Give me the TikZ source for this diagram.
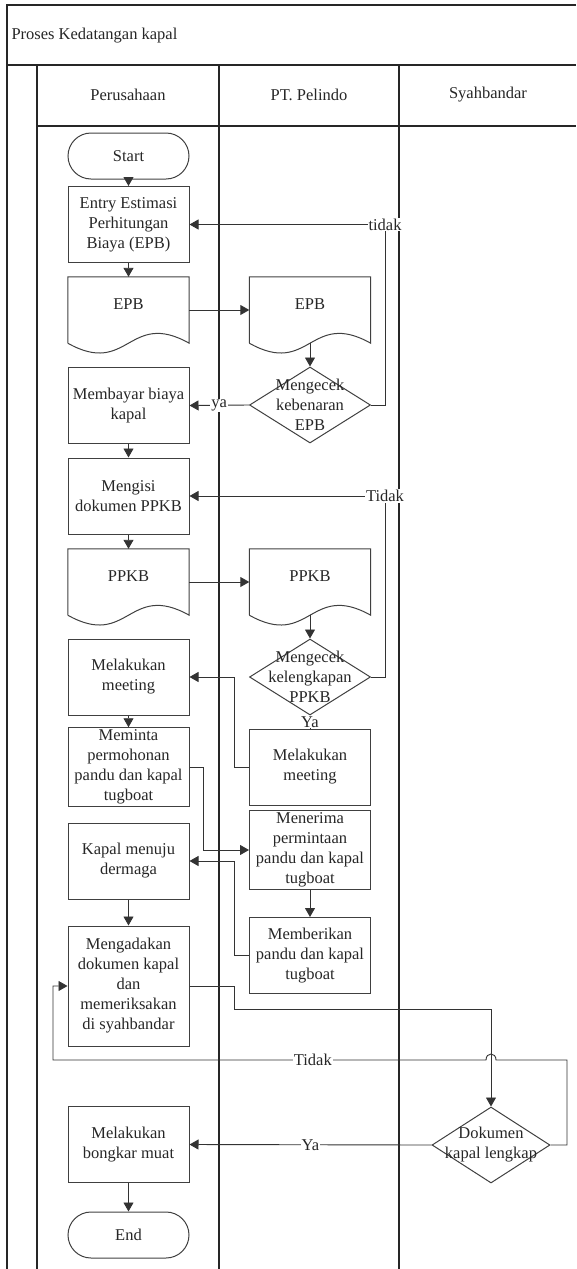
\documentclass[tikz,border=0pt]{standalone}
\usepackage{fontspec}
\setmainfont{Liberation Serif}
\usetikzlibrary{arrows.meta,calc,shapes.geometric}
\newcommand{\DocShape}[1]{%
  \draw[boxline] (#1.south west) -- (#1.north west) -- (#1.north east) -- (#1.south east)
    .. controls ($(#1.south)+(0,-34)$) and ($(#1.south)+(0,34)$) .. (#1.south west);}
\tikzset{
  txt/.style={font=\fontsize{16.5}{20}\selectfont, text=black!85},
  boxline/.style={draw=black!75, line width=1pt},
  proc/.style={txt, boxline, rectangle, minimum width=121pt, minimum height=76pt, inner sep=2pt, align=center},
  term/.style={proc, minimum height=46pt, rounded corners=23pt},
  doc/.style={txt, rectangle, minimum width=121pt, minimum height=66pt, text depth=12pt, align=center},
  dec/.style={boxline, diamond, minimum width=121pt, minimum height=76pt, inner sep=0pt},
  dectxt/.style={txt, align=center, inner sep=0pt},
  lane/.style={draw=black!85, line width=1.4pt},
  conn/.style={draw=black!80, line width=0.9pt},
  arr/.style={conn, -{Triangle[length=9pt,width=10pt]}},
  lbl/.style={txt, fill=white, inner sep=1pt},
}

\begin{document}
\begin{tikzpicture}[x=1pt,y=-1pt]
\useasboundingbox (0,0) rectangle (576,1269);
\draw[lane] (576,5) -- (7,5) -- (7,1269);
\draw[lane] (7,65) -- (576,65);
\draw[lane] (37,65) -- (37,1269);
\draw[lane] (37,126) -- (576,126);
\draw[lane] (219,65) -- (219,1269);
\draw[lane] (399,65) -- (399,1269);
\node[txt,anchor=west] (judul) at (8,36) {Proses Kedatangan kapal};
\node[txt] (hPer) at (128,95) {Perusahaan};
\node[txt] (hPel) at (309,95) {PT. Pelindo};
\node[txt] (hSya) at (488,95) {Syahbandar};

\node[term] (start) at (128.5,156) {Start};
\node[proc] (entry) at (128.5,224.5) {Entry Estimasi\\Perhitungan\\Biaya (EPB)};
\node[doc] (epb1) at (128.5,310) {EPB};
\node[doc] (epb2) at (310,310) {EPB};
\DocShape{epb1}
\DocShape{epb2}
\node[proc] (bayar) at (128.5,405.5) {Membayar biaya\\kapal};
\node[dec] (cek1) at (310,405) {};
\node[dectxt] (cek1t) at (cek1) {Mengecek\\kebenaran\\EPB};
\node[proc] (isi) at (128.5,496) {Mengisi\\dokumen PPKB};
\node[doc] (ppkb1) at (128.5,582) {PPKB};
\node[doc] (ppkb2) at (310,582) {PPKB};
\DocShape{ppkb1}
\DocShape{ppkb2}
\node[proc] (meet1) at (128.5,677) {Melakukan\\meeting};
\node[dec] (cek2) at (310,677) {};
\node[dectxt] (cek2t) at (cek2) {Mengecek\\kelengkapan\\PPKB};
\node[proc] (minta) at (128.5,767) {Meminta\\permohonan\\pandu dan kapal\\tugboat};
\node[proc] (meet2) at (310,767) {Melakukan\\meeting};
\node[proc] (terima) at (310,850) {Menerima\\permintaan\\pandu dan kapal\\tugboat};
\node[proc] (kapal) at (128.5,861) {Kapal menuju\\dermaga};
\node[proc] (beri) at (310,955.5) {Memberikan\\pandu dan kapal\\tugboat};
\node[proc, minimum height=120pt] (adakan) at (128.5,986) {Mengadakan\\dokumen kapal\\dan\\memeriksakan\\di syahbandar};
\node[dec, minimum width=118pt] (dok) at (491,1145) {};
\node[dectxt] (dokt) at (dok) {Dokumen\\kapal lengkap};
\node[proc] (bongkar) at (128.5,1144.5) {Melakukan\\bongkar muat};
\node[term] (end) at (128.5,1235) {End};

\coordinate (tdk1) at (385,224.5);
\coordinate (tdk2) at (385,496);
\coordinate (b1) at (234,1009);
\coordinate (b2) at (491,1009);
\coordinate (b3) at (567,1060);
\coordinate (b4) at (53,1060);

\draw[arr] (start) -- (entry);
\draw[arr] (entry) -- (epb1.north);
\draw[arr] (epb1.east) -- (epb2.west);
\draw[arr] (epb2.south) -- (cek1.north);
\draw[arr] (cek1.west) -- (bayar.east) node[lbl,midway]{ya};
\draw[arr] (cek1.east) -| (tdk1) -- (entry.east);
\node[lbl] (tdk1t) at (tdk1) {tidak};
\draw[arr] (bayar) -- (isi);
\draw[arr] (isi) -- (ppkb1.north);
\draw[arr] (ppkb1.east) -- (ppkb2.west);
\draw[arr] (ppkb2.south) -- (cek2.north);
\draw[arr] (cek2.east) -| (tdk2) -- (isi.east);
\node[lbl] (tdk2t) at (tdk2) {Tidak};
\draw[conn] (cek2.south) -- (meet2.north) node[lbl,midway]{Ya};
\draw[arr] (meet2.west) -- ++(-15,0) |- (meet1.east);
\draw[arr] (meet1) -- (minta);
\draw[arr] (minta.east) -- ++(14,0) |- (terima.west);
\draw[arr] (terima) -- (beri);
\draw[arr] (beri.west) -- ++(-15,0) |- (kapal.east);
\draw[arr] (kapal) -- (adakan);
\draw[arr] (adakan.east) -| (b1) -- (b2) -- (dok.north);
\draw[arr] (dok.east) -| (b3) -- (496,1060) .. controls (496,1052) and (486,1052) .. (486,1060)
  -- (b4) node[lbl,pos=0.4]{Tidak} |- (adakan.west);
\draw[arr] (dok.west) -- (bongkar.east) node[lbl,midway]{Ya};
\draw[arr] (bongkar) -- (end);
\end{tikzpicture}
\end{document}
